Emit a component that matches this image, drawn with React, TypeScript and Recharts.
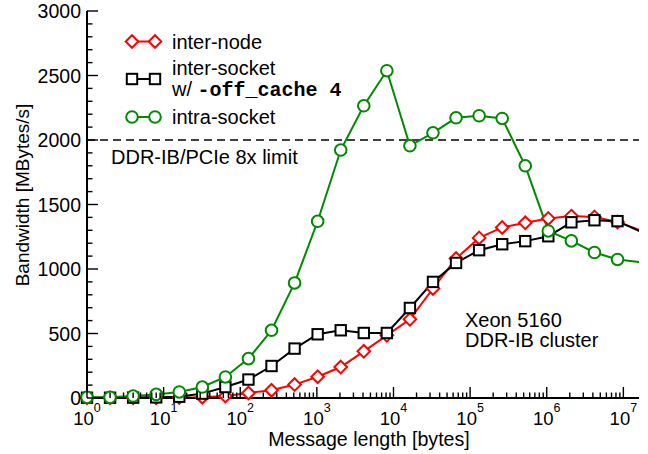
import React from 'react';
import { LineChart, Line, XAxis, YAxis, ReferenceLine } from 'recharts';

// ---- data ----
const messageBytes = [
  1, 2, 4, 8, 16, 32, 64, 128, 256, 512, 1024, 2048, 4096, 8192, 16384, 32768,
  65536, 131072, 262144, 524288, 1048576, 2097152, 4194304, 8388608, 16777216,
];
const interNode = [
  1, 1, 2, 2, 3, 6, 15, 39, 60, 104, 165, 240, 362, 486, 610, 849, 1081, 1241,
  1322, 1358, 1392, 1410, 1404, 1365, 1300,
];
const interSocket = [
  2, 2, 3, 5, 10, 34, 85, 143, 248, 383, 494, 525, 504, 504, 698, 900, 1047,
  1146, 1192, 1216, 1254, 1362, 1378, 1371, 1290,
];
const intraSocket = [
  5, 5, 15, 28, 47, 85, 163, 305, 525, 892, 1370, 1922, 2265, 2537, 1955, 2056,
  2172, 2188, 2167, 1800, 1295, 1218, 1128, 1074, 1053,
];

const xDecades = [1, 10, 100, 1000, 10000, 100000, 1000000, 10000000];
const xDecadeExponents = ['0', '1', '2', '3', '4', '5', '6', '7'];
const xMinorMultipliers = [2, 3, 4, 5, 6, 7, 8, 9];
const X_MAX = 16000000;
const yMajorTicks = [0, 500, 1000, 1500, 2000, 2500, 3000];
const yMinorStep = 100;
const limitValue = 2000;

const rows = messageBytes.map((b, i) => ({
  bytes: b,
  interNode: interNode[i],
  interSocket: interSocket[i],
  intraSocket: intraSocket[i],
}));
const visibleRows = rows.filter((r) => r.bytes <= X_MAX);

const xTicks: number[] = [];
xDecades.forEach((d) => {
  xTicks.push(d);
  xMinorMultipliers.forEach((m) => {
    if (m * d <= X_MAX) xTicks.push(m * d);
  });
});
const yTicks: number[] = [];
for (let v = 0; v <= 3000; v += yMinorStep) yTicks.push(v);

const FONT = '"Liberation Sans", Arial, Helvetica, sans-serif';
const MONO = '"Liberation Mono", "Courier New", monospace';
const RED = '#ff0000';
const GREEN = '#008a00';
const MAJOR = 11;
const MINOR = 5.5;

const isDecade = (v: number) => xDecades.indexOf(v) >= 0;

const BottomTick = (props: any) => {
  const { x, y, payload } = props;
  const v = payload.value;
  const major = isDecade(v);
  const idx = xDecades.indexOf(v);
  return (
    <g>
      <line x1={x} y1={y} x2={x} y2={y - (major ? MAJOR : MINOR)} stroke="#000" strokeWidth={1.4} />
      {major && (
        <text x={x} y={y + 26.5} textAnchor="middle" fontSize={18.5} fontFamily={FONT} fill="#000">
          10
          <tspan dy={-12.5} fontSize={12.5}>{xDecadeExponents[idx]}</tspan>
        </text>
      )}
    </g>
  );
};

const TopTick = (props: any) => {
  const { x, y, payload } = props;
  const major = isDecade(payload.value);
  return <line x1={x} y1={y} x2={x} y2={y + (major ? MAJOR : MINOR)} stroke="#000" strokeWidth={1.4} />;
};

const LeftTick = (props: any) => {
  const { x, y, payload } = props;
  const major = yMajorTicks.indexOf(payload.value) >= 0;
  return (
    <g>
      <line x1={x} y1={y} x2={x + (major ? MAJOR : MINOR)} y2={y} stroke="#000" strokeWidth={1.4} />
      {major && (
        <text x={x - 6} y={y} dy="0.36em" textAnchor="end" fontSize={19.5} fontFamily={FONT} fill="#000">
          {payload.value}
        </text>
      )}
    </g>
  );
};

const RightTick = (props: any) => {
  const { x, y, payload } = props;
  const major = yMajorTicks.indexOf(payload.value) >= 0;
  return <line x1={x} y1={y} x2={x - (major ? MAJOR : MINOR)} y2={y} stroke="#000" strokeWidth={1.4} />;
};

const Diamond = ({ cx, cy }: { cx: number; cy: number }) => (
  <path d={`M${cx},${cy - 6.3}L${cx + 6.3},${cy}L${cx},${cy + 6.3}L${cx - 6.3},${cy}Z`} fill="#fff" stroke={RED} strokeWidth={2} />
);
const Square = ({ cx, cy }: { cx: number; cy: number }) => (
  <rect x={cx - 5.2} y={cy - 5.2} width={10.4} height={10.4} fill="#fff" stroke="#000" strokeWidth={2} />
);
const Circle = ({ cx, cy }: { cx: number; cy: number }) => (
  <circle cx={cx} cy={cy} r={5.8} fill="#fff" stroke={GREEN} strokeWidth={2} />
);

const diamondDot = (p: any) => <Diamond key={`d${p.index}`} cx={p.cx} cy={p.cy} />;
const squareDot = (p: any) => <Square key={`s${p.index}`} cx={p.cx} cy={p.cy} />;
const circleDot = (p: any) => <Circle key={`c${p.index}`} cx={p.cx} cy={p.cy} />;

const axisLine = { stroke: '#000', strokeWidth: 2 };

const LegendRow = ({ y, color, Marker }: { y: number; color: string; Marker: any }) => (
  <g>
    <line x1={132} y1={y} x2={155} y2={y} stroke={color} strokeWidth={2} />
    <Marker cx={132} cy={y} />
    <Marker cx={155} cy={y} />
  </g>
);

export default function App() {
  return (
    <div style={{ position: 'absolute', left: 0, top: 0, width: 648, height: 454, background: '#fff' }}>
      <LineChart
        width={648}
        height={454}
        data={rows}
        margin={{ top: 11, right: 9, bottom: 0, left: 0 }}
        style={{ fontFamily: FONT }}
      >
        <XAxis
          xAxisId="main"
          dataKey="bytes"
          type="number"
          scale="log"
          domain={[1, X_MAX]}
          allowDataOverflow
          ticks={xTicks}
          interval={0}
          tickSize={0}
          tickMargin={0}
          tickLine={false}
          axisLine={axisLine}
          height={56}
          tick={<BottomTick />}
        />
        <XAxis
          xAxisId="top"
          orientation="top"
          dataKey="bytes"
          type="number"
          scale="log"
          domain={[1, X_MAX]}
          ticks={xTicks}
          interval={0}
          tickSize={0}
          tickMargin={0}
          tickLine={false}
          axisLine={axisLine}
          height={0}
          tick={<TopTick />}
        />
        <YAxis
          yAxisId="left"
          type="number"
          domain={[0, 3000]}
          ticks={yTicks}
          interval={0}
          tickSize={0}
          tickMargin={0}
          tickLine={false}
          axisLine={axisLine}
          width={87}
          tick={<LeftTick />}
        />
        <YAxis
          yAxisId="right"
          orientation="right"
          type="number"
          domain={[0, 3000]}
          ticks={yTicks}
          interval={0}
          tickSize={0}
          tickMargin={0}
          tickLine={false}
          axisLine={axisLine}
          width={0}
          tick={<RightTick />}
        />
        <ReferenceLine
          xAxisId="main"
          yAxisId="left"
          y={limitValue}
          stroke="#000"
          strokeWidth={1.6}
          strokeDasharray="8 5"
        />
        <Line xAxisId="main" yAxisId="left" dataKey="interNode" stroke={RED} strokeWidth={2} dot={false} isAnimationActive={false} />
        <Line xAxisId="top" yAxisId="left" data={visibleRows} dataKey="interNode" stroke="none" dot={diamondDot} isAnimationActive={false} />
        <Line xAxisId="main" yAxisId="left" dataKey="interSocket" stroke="#000" strokeWidth={2} dot={false} isAnimationActive={false} />
        <Line xAxisId="top" yAxisId="left" data={visibleRows} dataKey="interSocket" stroke="none" dot={squareDot} isAnimationActive={false} />
        <Line xAxisId="main" yAxisId="left" dataKey="intraSocket" stroke={GREEN} strokeWidth={2} dot={false} isAnimationActive={false} />
        <Line xAxisId="top" yAxisId="left" data={visibleRows} dataKey="intraSocket" stroke="none" dot={circleDot} isAnimationActive={false} />
      </LineChart>
      <svg
        width={648}
        height={454}
        style={{ position: 'absolute', left: 0, top: 0, pointerEvents: 'none' }}
        fontFamily={FONT}
      >
        <LegendRow y={41.5} color={RED} Marker={Diamond} />
        <text x={172} y={48.5} fontSize={20} fill="#000">inter-node</text>
        <LegendRow y={79} color="#000" Marker={Square} />
        <text x={172} y={74.5} fontSize={20} fill="#000">inter-socket</text>
        <text x={172} y={95.5} fontSize={20} fill="#000">
          w/{' '}
          <tspan fontFamily={MONO} fontWeight="bold" fontSize={20}>-off_cache 4</tspan>
        </text>
        <LegendRow y={117} color={GREEN} Marker={Circle} />
        <text x={172} y={124} fontSize={20} fill="#000">intra-socket</text>

        <text x={111} y={164} fontSize={20} fill="#000">DDR-IB/PCIe 8x limit</text>

        <text x={465} y={327} fontSize={20} fill="#000">Xeon 5160</text>
        <text x={465} y={347} fontSize={20} fill="#000">DDR-IB cluster</text>

        <text x={369} y={445.5} textAnchor="middle" fontSize={19.6} fill="#000">Message length [bytes]</text>
        <text
          x={0}
          y={0}
          transform="translate(28.5,195) rotate(-90)"
          textAnchor="middle"
          fontSize={19}
          fill="#000"
        >
          Bandwidth [MBytes/s]
        </text>
      </svg>
    </div>
  );
}
